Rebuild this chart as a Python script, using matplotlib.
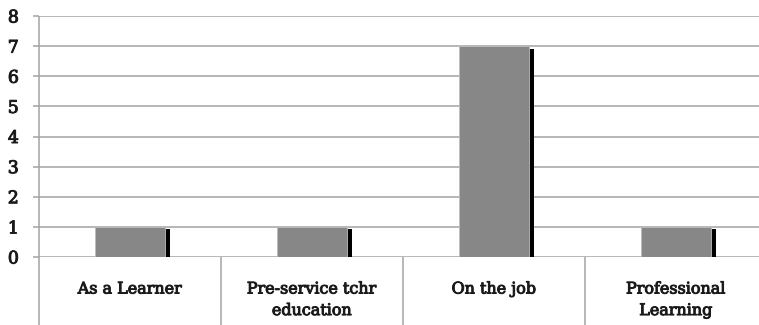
import matplotlib.pyplot as plt
import matplotlib.patheffects as pe
import numpy as np

# survey counts per category
categories = ['As a Learner', 'Pre-service tchr\neducation', 'On the job', 'Professional\nLearning']
counts = [1, 1, 7, 1]
yticks = [0, 1, 2, 3, 4, 5, 6, 7, 8]

plt.rcParams['font.family'] = ['DejaVu Serif']

grid_c = '#a3a3a3'
bar_c = '#878787'
text_c = '#1a1a1a'
# thicken the glyphs a touch
heavy = [pe.withStroke(linewidth=0.7, foreground=text_c)]

fig = plt.figure(figsize=(7.59, 3.25), dpi=100)
# axes run a little past the right edge of the figure
ax = fig.add_axes([39/759, 68/325, 728/759, 241/325])

ind = np.arange(len(categories))
width = 0.39

# black drop shadow on the right side of each bar
shadow_w = 0.025
ax.bar(ind + width/2 + shadow_w/2, np.array(counts) - 0.08, shadow_w,
       color='black', zorder=2)
ax.bar(ind, counts, width, color=bar_c, edgecolor='#bdbdbd', linewidth=0.6, zorder=3)

ax.set_xlim(-0.5, len(categories) - 0.5)
ax.set_ylim(0, 8)
ax.set_yticks(yticks)
ax.set_yticklabels([str(t) for t in yticks], fontsize=12.5, color=text_c)
for t in ax.get_yticklabels():
    t.set_path_effects(heavy)
ax.tick_params(axis='y', length=4.5, width=1.1, color=grid_c, pad=10)
ax.set_xticks([])

ax.yaxis.grid(True, color=grid_c, linewidth=1.1)
ax.set_axisbelow(True)

for s in ['top', 'right', 'bottom', 'left']:
    ax.spines[s].set_visible(False)

# left axis and category dividers run down through the label area
ax.vlines([-0.5], 0, 8, color=grid_c, linewidth=1.1, clip_on=False)
ax.vlines([-0.5, 0.5, 1.5, 2.5], -2.4, 0, color=grid_c, linewidth=1.1, clip_on=False)

for i, lab in enumerate(categories):
    ax.text(i, -0.78, lab, ha='center', va='top', fontsize=11.5,
            color=text_c, linespacing=1.35, path_effects=heavy)

fig.savefig('out.png', dpi=100)
